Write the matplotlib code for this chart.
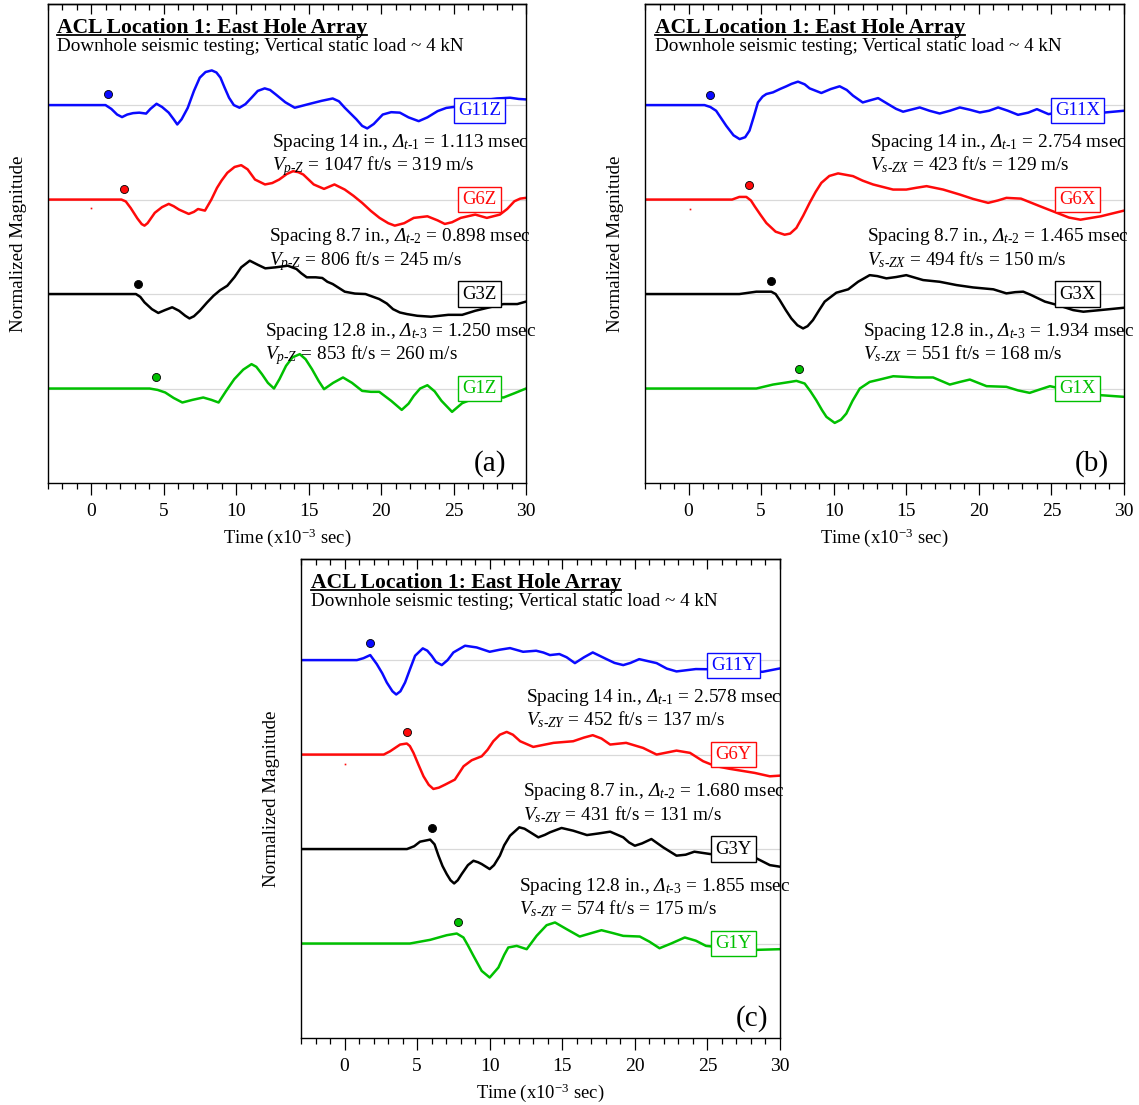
import numpy as np
import matplotlib
matplotlib.use('Agg')
import matplotlib.pyplot as plt
from matplotlib.ticker import MultipleLocator, NullFormatter
from matplotlib.lines import Line2D

plt.rcParams['font.family'] = ['Liberation Serif', 'DejaVu Serif']
plt.rcParams['mathtext.fontset'] = 'custom'
plt.rcParams['mathtext.rm'] = 'Liberation Serif'
plt.rcParams['mathtext.it'] = 'Liberation Serif:italic'
plt.rcParams['mathtext.sf'] = 'Liberation Serif:italic'
plt.rcParams['mathtext.bf'] = 'Liberation Serif:bold'

# ---------------- data (time in ms, normalized amplitude) ----------------
# Panel (a): vertical component
t_G11Z = [-3, 1.0, 1.4, 1.8, 2.14, 2.5, 2.9, 3.33, 3.8, 4.1, 4.52, 4.9, 5.36, 5.7, 5.95, 6.25, 6.67, 7.1, 7.5, 7.9, 8.33, 8.65, 8.93, 9.2, 9.52, 9.85, 10.24, 10.65, 11.07, 11.5, 11.98, 12.35, 12.74, 13.4, 14.05, 14.5, 15.1, 15.9, 16.67, 17.1, 17.5, 18.3, 18.7, 19.05, 19.5, 20.12, 20.7, 21.3, 21.9, 22.6, 23.2, 23.9, 24.5, 25.0, 26.0, 27.0, 28.0, 28.9, 29.5, 30]
a_G11Z = [0, 0, -0.04, -0.1, -0.127, -0.1, -0.085, -0.08, -0.09, -0.04, 0.014, -0.02, -0.08, -0.15, -0.205, -0.15, -0.03, 0.15, 0.29, 0.35, 0.367, 0.345, 0.29, 0.19, 0.078, 0.0, -0.028, 0.01, 0.078, 0.15, 0.177, 0.16, 0.113, 0.03, -0.028, -0.01, 0.014, 0.045, 0.07, 0.04, -0.028, -0.15, -0.22, -0.247, -0.2, -0.1, -0.075, -0.08, -0.13, -0.17, -0.13, -0.064, -0.03, -0.02, 0.02, 0.05, 0.07, 0.078, 0.065, 0.06]
t_G6Z = [-3, 2.1, 2.4, 2.74, 3.2, 3.5, 3.69, 3.9, 4.4, 4.9, 5.36, 5.7, 6.07, 6.74, 7.1, 7.38, 7.86, 8.3, 8.69, 9.0, 9.4, 9.9, 10.36, 10.8, 11.31, 12.0, 12.5, 12.98, 13.5, 13.93, 14.3, 14.64, 15.36, 16.07, 16.79, 17.5, 18.1, 18.7, 19.3, 19.9, 20.5, 20.95, 21.6, 22.26, 23.2, 23.9, 24.4, 24.9, 25.5, 26.5, 27.3, 28.2, 28.7, 29.2, 29.6, 30]
a_G6Z = [0, 0, -0.02, -0.09, -0.2, -0.26, -0.276, -0.25, -0.14, -0.08, -0.046, -0.07, -0.106, -0.152, -0.13, -0.1, -0.117, 0.0, 0.124, 0.2, 0.283, 0.345, 0.364, 0.32, 0.212, 0.16, 0.175, 0.212, 0.27, 0.3, 0.29, 0.265, 0.16, 0.113, 0.16, 0.106, 0.04, -0.035, -0.12, -0.194, -0.25, -0.276, -0.25, -0.194, -0.177, -0.22, -0.258, -0.24, -0.194, -0.159, -0.194, -0.159, -0.1, -0.018, 0.01, 0.018]
t_G3Z = [-3, 3.1, 3.4, 3.69, 4.2, 4.64, 5.1, 5.6, 6.07, 6.5, 6.79, 7.1, 7.5, 8.0, 8.45, 8.9, 9.4, 9.9, 10.36, 10.95, 11.5, 12.02, 12.74, 13.57, 14.17, 14.5, 14.88, 15.5, 15.95, 16.3, 16.67, 17.5, 18.2, 18.93, 19.88, 20.4, 20.83, 21.3, 21.79, 22.5, 23.45, 24.64, 25.6, 26.5, 27.5, 28.45, 29.4, 30]
a_G3Z = [0, 0, -0.03, -0.088, -0.16, -0.2, -0.17, -0.14, -0.177, -0.23, -0.258, -0.235, -0.177, -0.09, -0.018, 0.04, 0.088, 0.18, 0.283, 0.353, 0.31, 0.272, 0.283, 0.3, 0.265, 0.22, 0.177, 0.177, 0.17, 0.13, 0.106, 0.025, 0.005, 0.0, -0.053, -0.1, -0.16, -0.195, -0.212, -0.23, -0.24, -0.22, -0.22, -0.177, -0.14, -0.106, -0.106, -0.08]
t_G1Z = [-3, 4.05, 4.6, 5.12, 5.7, 6.3, 7.0, 7.74, 8.3, 8.8, 9.3, 9.88, 10.5, 11.07, 11.4, 11.79, 12.2, 12.62, 13.0, 13.45, 13.9, 14.4, 14.8, 15.24, 15.7, 16.07, 16.7, 17.38, 18.0, 18.7, 19.3, 19.88, 20.7, 21.43, 21.9, 22.26, 22.7, 23.2, 23.7, 24.17, 24.9, 25.6, 26.5, 27.5, 28.45, 29.2, 30]
a_G1Z = [0, 0, -0.015, -0.042, -0.1, -0.148, -0.12, -0.095, -0.12, -0.148, -0.03, 0.099, 0.2, 0.258, 0.23, 0.152, 0.06, 0.0, 0.1, 0.24, 0.33, 0.364, 0.31, 0.205, 0.08, -0.007, 0.06, 0.117, 0.06, -0.025, -0.035, -0.035, -0.13, -0.226, -0.16, -0.078, 0.0, 0.035, -0.03, -0.13, -0.247, -0.155, -0.1, -0.09, -0.095, -0.05, 0]
pick_t_a = [1.19, 2.31, 3.21, 4.45]
pick_a_a = [0.117, 0.117, 0.106, 0.117]

# Panel (b): X component
t_G11X = [-3, 1.1, 1.5, 1.9, 2.6, 3.1, 3.52, 3.9, 4.2, 4.5, 4.78, 5.1, 5.36, 5.82, 6.3, 6.74, 7.1, 7.54, 8.0, 8.34, 9.15, 9.8, 10.41, 10.9, 11.33, 12.0, 12.5, 13.06, 13.75, 14.3, 14.78, 15.93, 16.6, 17.3, 18.0, 18.69, 19.4, 20.07, 20.7, 21.33, 22.0, 22.7, 23.4, 24.0, 24.8, 26.0, 27.5, 28.7, 30]
a_G11X = [0, 0, -0.02, -0.06, -0.22, -0.32, -0.36, -0.34, -0.27, -0.12, 0.028, 0.09, 0.117, 0.135, 0.17, 0.199, 0.225, 0.248, 0.22, 0.177, 0.128, 0.17, 0.199, 0.16, 0.1, 0.028, 0.05, 0.074, 0.01, -0.04, -0.07, -0.025, -0.06, -0.089, -0.06, -0.025, -0.05, -0.078, -0.06, -0.025, -0.06, -0.103, -0.08, -0.043, -0.096, -0.06, -0.07, -0.078, -0.06]
t_G6X = [-3, 3.0, 3.5, 3.98, 4.3, 4.55, 4.95, 5.36, 6.0, 6.62, 7.0, 7.43, 7.9, 8.34, 8.75, 9.15, 9.7, 10.3, 11.33, 12.0, 12.71, 14.09, 15.0, 15.7, 16.4, 17.54, 18.69, 19.6, 20.64, 21.3, 21.9, 22.9, 24.2, 25.4, 26.2, 27.0, 28.4, 30]
a_G6X = [0, 0, 0.028, 0.028, -0.01, -0.07, -0.16, -0.248, -0.34, -0.372, -0.36, -0.3, -0.17, -0.035, 0.08, 0.177, 0.25, 0.277, 0.248, 0.2, 0.16, 0.106, 0.106, 0.125, 0.142, 0.106, 0.053, 0.007, -0.035, -0.01, 0.018, 0.01, -0.07, -0.142, -0.19, -0.213, -0.177, -0.117]
t_G3X = [-3, 3.5, 4.67, 5.7, 6.0, 6.28, 6.7, 7.08, 7.5, 7.89, 8.2, 8.57, 9.0, 9.38, 10.18, 11.0, 11.68, 12.48, 13.0, 13.63, 14.3, 15.0, 16.16, 17.3, 18.46, 19.6, 21.0, 21.9, 22.5, 23.06, 23.6, 24.55, 25.5, 26.5, 27.2, 28.35, 30]
a_G3X = [0, 0, 0.025, 0.025, 0.0, -0.064, -0.17, -0.258, -0.33, -0.364, -0.34, -0.276, -0.17, -0.08, 0.014, 0.05, 0.13, 0.2, 0.19, 0.166, 0.18, 0.2, 0.148, 0.13, 0.095, 0.07, 0.05, 0.007, 0.02, 0.025, -0.01, -0.08, -0.12, -0.17, -0.187, -0.17, -0.145]
t_G1X = [-3, 4.67, 5.82, 7.0, 7.43, 8.0, 8.4, 8.8, 9.2, 9.5, 10.07, 10.5, 10.87, 11.3, 11.8, 12.48, 13.17, 14.1, 15.7, 16.85, 18.0, 18.7, 19.38, 20.53, 21.9, 22.7, 23.5, 24.2, 24.9, 26.5, 28.35, 30]
a_G1X = [0, 0, 0.042, 0.07, 0.081, 0.053, -0.03, -0.124, -0.23, -0.3, -0.364, -0.33, -0.265, -0.13, 0, 0.07, 0.095, 0.13, 0.117, 0.117, 0.042, 0.07, 0.095, 0.025, 0.018, -0.02, -0.046, -0.01, 0.025, -0.03, -0.07, -0.088]
pick_t_b = [1.45, 4.16, 5.66, 7.59]
pick_a_b = [0.103, 0.149, 0.138, 0.205]

# Panel (c): Y component
t_G11Y = [-3, 0.85, 1.3, 1.77, 2.22, 2.6, 2.91, 3.3, 3.56, 3.85, 4.17, 4.5, 4.86, 5.39, 5.7, 6.0, 6.3, 6.7, 7.1, 7.5, 8.3, 9.1, 10.0, 10.7, 11.4, 12.3, 13.2, 13.7, 14.15, 14.8, 15.3, 15.87, 16.5, 17.1, 18.05, 18.6, 19.2, 19.7, 20.3, 21.5, 22.2, 22.87, 24.2, 26.5, 28.8, 30]
a_G11Y = [0, 0, 0.02, 0.053, -0.042, -0.14, -0.237, -0.33, -0.364, -0.33, -0.237, -0.1, 0.046, 0.124, 0.1, 0.046, -0.02, -0.053, 0.0, 0.081, 0.152, 0.134, 0.088, 0.11, 0.127, 0.088, 0.099, 0.08, 0.053, 0.064, 0.03, -0.032, 0.03, 0.081, 0.01, -0.03, -0.053, -0.03, 0.01, -0.032, -0.09, -0.12, -0.095, -0.1, -0.124, -0.088]
t_G6Y = [-3, 2.7, 3.14, 3.83, 4.29, 4.5, 4.75, 5.1, 5.44, 5.8, 6.12, 6.5, 6.93, 7.6, 8.2, 8.76, 9.45, 9.85, 10.25, 10.7, 11.17, 11.6, 12.1, 13.0, 14.4, 15.75, 16.5, 17.1, 17.7, 18.3, 19.4, 20.57, 21.5, 22.87, 23.8, 24.7, 25.5, 26.5, 28.25, 29.3, 30]
a_G6Y = [0, 0, 0.035, 0.106, 0.117, 0.09, 0.018, -0.11, -0.23, -0.32, -0.364, -0.35, -0.318, -0.265, -0.124, -0.06, -0.018, 0.05, 0.141, 0.21, 0.24, 0.21, 0.141, 0.081, 0.124, 0.141, 0.18, 0.205, 0.17, 0.106, 0.124, 0.07, 0, 0.042, 0.018, -0.07, -0.12, -0.15, -0.194, -0.23, -0.223]
t_G3Y = [-3, 4.3, 4.8, 5.2, 5.9, 6.2, 6.47, 6.75, 7.04, 7.3, 7.55, 7.8, 8.07, 8.5, 8.88, 9.2, 9.45, 10.0, 10.3, 10.7, 11.0, 11.4, 12.04, 12.4, 12.8, 13.35, 13.8, 14.15, 14.95, 15.76, 16.7, 17.5, 18.3, 19.2, 19.6, 20.0, 20.5, 21.14, 21.95, 22.87, 23.5, 24.1, 25.2, 26.8, 28.4, 29.3, 30]
a_G3Y = [0, 0, 0.03, 0.078, 0.1, 0.05, -0.07, -0.18, -0.265, -0.33, -0.364, -0.33, -0.265, -0.17, -0.124, -0.14, -0.159, -0.212, -0.17, -0.07, 0.04, 0.141, 0.23, 0.215, 0.177, 0.124, 0.15, 0.177, 0.223, 0.194, 0.148, 0.165, 0.184, 0.124, 0.07, 0.035, 0.06, 0.106, 0.018, -0.07, -0.06, -0.028, -0.053, -0.07, -0.1, -0.17, -0.187]
t_G1Y = [-3, 4.5, 5.9, 7.04, 7.73, 8.19, 8.5, 8.88, 9.45, 10.0, 10.6, 11.0, 11.28, 11.86, 12.55, 13.23, 13.92, 14.5, 15.3, 16.2, 17.0, 17.7, 18.5, 19.2, 20.34, 21.0, 21.7, 22.5, 23.44, 24.2, 24.9, 26.5, 28.4, 30]
a_G1Y = [0, 0, 0.039, 0.088, 0.106, 0.064, -0.02, -0.13, -0.29, -0.36, -0.254, -0.12, -0.042, -0.025, -0.06, 0.081, 0.194, 0.223, 0.152, 0.074, 0.11, 0.141, 0.11, 0.081, 0.074, 0.02, -0.05, 0.0, 0.064, 0.03, -0.025, -0.05, -0.067, -0.06]
pick_t_c = [1.77, 4.29, 6.0, 7.84]
pick_a_c = [0.18, 0.237, 0.22, 0.23]

# small stray red speck on the G6 traces
speck_t = [0.0, 0.07, 0.05]
speck_a = [-0.09, -0.10, -0.095]

# annotation values
spacings = ['14', '8.7', '12.8']
dt_a = ['1.113', '0.898', '1.250']
vft_a = ['1047', '806', '853']
vms_a = ['319', '245', '260']
dt_b = ['2.754', '1.465', '1.934']
vft_b = ['423', '494', '551']
vms_b = ['129', '150', '168']
dt_c = ['2.578', '1.680', '1.855']
vft_c = ['452', '431', '574']
vms_c = ['137', '131', '175']

title_text = 'ACL Location 1: East Hole Array'
subtitle_text = 'Downhole seismic testing; Vertical static load ~ 4 kN'
xlabel_text = r'Time (x10$^{\mathregular{-3}}$ sec)'
ylabel_text = 'Normalized Magnitude'

# ---------------- styling ----------------
colors = ['#0a0aff', '#ff0a0a', '#000000', '#00c000']
baselines = [4, 3, 2, 1]
HY = '\u2010'

fig = plt.figure(figsize=(11.39, 11.05), dpi=100)
W, H = 1139.0, 1105.0


def make_axes(left_px, bottom_px, right_px, top_px):
    return fig.add_axes([left_px / W, 1 - bottom_px / H,
                         (right_px - left_px) / W, (bottom_px - top_px) / H])


panels = [
    dict(box=(47.5, 483, 526, 4), comp='Z', wave='p' + HY + 'Z',
         traces=[(t_G11Z, a_G11Z), (t_G6Z, a_G6Z), (t_G3Z, a_G3Z), (t_G1Z, a_G1Z)],
         picks=(pick_t_a, pick_a_a), dt=dt_a, vft=vft_a, vms=vms_a,
         letter='(a)', letter_x=27.5, speck=0),
    dict(box=(645, 483, 1124, 4), comp='X', wave='s' + HY + 'ZX',
         traces=[(t_G11X, a_G11X), (t_G6X, a_G6X), (t_G3X, a_G3X), (t_G1X, a_G1X)],
         picks=(pick_t_b, pick_a_b), dt=dt_b, vft=vft_b, vms=vms_b,
         letter='(b)', letter_x=27.8, speck=1),
    dict(box=(301, 1038, 780, 559), comp='Y', wave='s' + HY + 'ZY',
         traces=[(t_G11Y, a_G11Y), (t_G6Y, a_G6Y), (t_G3Y, a_G3Y), (t_G1Y, a_G1Y)],
         picks=(pick_t_c, pick_a_c), dt=dt_c, vft=vft_c, vms=vms_c,
         letter='(c)', letter_x=28.1, speck=2),
]

geo_names = ['G11', 'G6', 'G3', 'G1']
title_artists = []

for p in panels:
    ax = make_axes(*p['box'])
    ax.set_xlim(-3, 30)
    ax.set_ylim(0, 5.07)
    for sp in ax.spines.values():
        sp.set_linewidth(1.0)

    # baseline grid
    ax.set_yticks(baselines)
    ax.yaxis.grid(True, color='#d9d9d9', lw=0.9)
    ax.tick_params(axis='y', length=0, labelleft=False)

    ax.xaxis.set_major_locator(MultipleLocator(5))
    ax.xaxis.set_minor_locator(MultipleLocator(1))
    ax.tick_params(axis='x', which='major', direction='out', length=8.4, width=0.9,
                   labelsize=14, pad=6)
    ax.tick_params(axis='x', which='minor', direction='out', length=4.3, width=0.9)

    sec = ax.secondary_xaxis('top')
    sec.xaxis.set_major_locator(MultipleLocator(5))
    sec.xaxis.set_minor_locator(MultipleLocator(1))
    sec.xaxis.set_major_formatter(NullFormatter())
    sec.tick_params(axis='x', which='major', direction='in', length=7.5, width=0.9)
    sec.tick_params(axis='x', which='minor', direction='in', length=4.3, width=0.9)
    sec.spines['top'].set_linewidth(1.0)

    # traces
    for (t, a), col, base in zip(p['traces'], colors, baselines):
        ax.plot(t, np.asarray(a) + base, color=col, lw=1.8, solid_joinstyle='round',
                solid_capstyle='round', zorder=2)
    pt, pa = p['picks']
    for x, y, col, base in zip(pt, pa, colors, baselines):
        ax.plot([x], [y + base], 'o', ms=5.8, mfc=col, mec='black', mew=0.6, zorder=4)
    k = p['speck']
    ax.plot([speck_t[k]], [speck_a[k] + 3], 's', ms=1.2, color=colors[1], mew=0, zorder=2)

    # labels with boxes
    for name, col, base in zip(geo_names, colors, baselines):
        yb = base - 0.06 if name == 'G11' else base
        ax.text(26.8, yb, name + p['comp'], color=col, fontsize=13.5, ha='center',
                va='center', zorder=5,
                bbox=dict(boxstyle='square,pad=0.22', fc='white', ec=col, lw=1.0))

    # annotations
    xs = [12.5, 12.3, 12.0]
    for i in range(3):
        kk = 3 - i
        ax.text(xs[i], kk + 0.56,
                'Spacing %s in., $\\mathsf{\u0394}_{\\mathit{t%s%d}}$ = %s msec'
                % (spacings[i], HY, i + 1, p['dt'][i]),
                fontsize=13.9, ha='left', va='baseline', zorder=3)
        ax.text(xs[i], kk + 0.305,
                '$\\mathit{V}_{\\mathit{%s}}$ = %s ft/s = %s m/s'
                % (p['wave'], p['vft'][i], p['vms'][i]),
                fontsize=13.9, ha='left', va='baseline', zorder=3)

    # title block
    tt = ax.text(0.02, 0.9395, title_text, transform=ax.transAxes, fontsize=15.6,
                 fontweight='bold', ha='left', va='baseline', zorder=6)
    title_artists.append(tt)
    ax.text(0.02, 0.901, subtitle_text, transform=ax.transAxes, fontsize=13.8,
            ha='left', va='baseline', zorder=6)

    ax.text(p['letter_x'], 0.21, p['letter'], fontsize=21, ha='center', va='center')

    ax.text(-0.0615, 0.5, ylabel_text, transform=ax.transAxes, rotation=90,
            fontsize=13.7, ha='center', va='center')
    ax.text(0.5, -0.125, xlabel_text, transform=ax.transAxes, fontsize=13.4,
            ha='center', va='baseline')

# underline titles
fig.canvas.draw()
renderer = fig.canvas.get_renderer()
for tt in title_artists:
    bb = tt.get_window_extent(renderer)
    ax = tt.axes
    ybase = ax.transAxes.transform((0, 0.9395))[1] - 2.5
    fig.add_artist(Line2D([bb.x0 / W, bb.x1 / W], [ybase / H, ybase / H],
                          transform=fig.transFigure, color='black', lw=1.3))

fig.savefig('out.png', dpi=100)
